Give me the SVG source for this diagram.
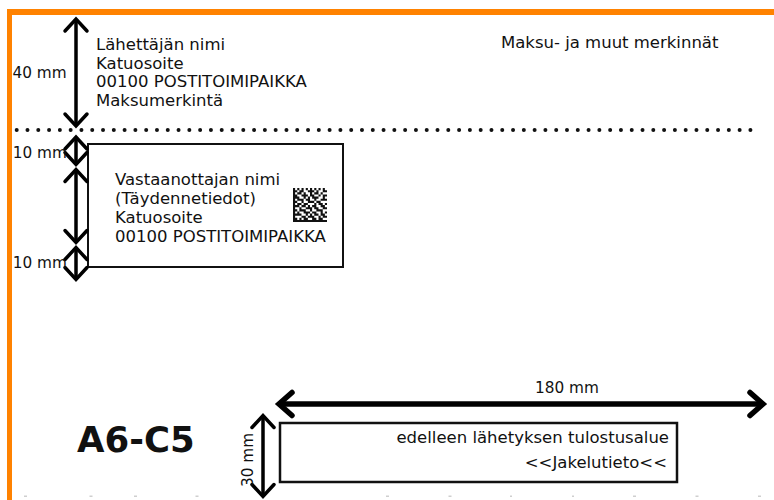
<svg xmlns="http://www.w3.org/2000/svg" width="774" height="500" viewBox="0 0 774 500">
<style>
.t{font-family:"DejaVu Sans","Liberation Sans",sans-serif;font-size:16.5px;fill:#111}
.lab{font-family:"DejaVu Sans","Liberation Sans",sans-serif;font-size:15.3px;fill:#111}
.title{font-family:"DejaVu Sans","Liberation Sans",sans-serif;font-size:35.5px;font-weight:bold;fill:#111}
.box{fill:#fff;stroke:#111}
.dim{fill:none;stroke:#000;stroke-width:3.5}
.dimb{fill:none;stroke:#000;stroke-width:5.5}
.orange{fill:#ff8200}
.tick{fill:#cfcfcf}
</style>
<defs>
<marker id="chev" markerUnits="userSpaceOnUse" viewBox="-20 -20 40 40" markerWidth="40" markerHeight="40" refX="0" refY="0" orient="auto-start-reverse" overflow="visible">
<path d="M-12,-11 L0,0 L-12,11" fill="none" stroke="#000" stroke-width="3.5" stroke-linejoin="miter" stroke-linecap="round"/>
</marker>
<marker id="chevb" markerUnits="userSpaceOnUse" viewBox="-20 -20 40 40" markerWidth="40" markerHeight="40" refX="0" refY="0" orient="auto-start-reverse" overflow="visible">
<path d="M-13,-11.5 L0,0 L-13,11.5" fill="none" stroke="#000" stroke-width="5.5" stroke-linejoin="miter" stroke-linecap="round"/>
</marker>
</defs>
<rect width="774" height="500" fill="#fff"/>

<g id="frame">
<rect class="orange" x="7" y="9" width="767" height="6"/>
<rect class="orange" x="7" y="9" width="5" height="491"/>
<line x1="16.7" y1="130" x2="751" y2="130" stroke="#111" stroke-width="4" stroke-linecap="round" stroke-dasharray="0 10.79"/>
<g id="bottom-ticks">
<rect class="tick" x="24" y="495.5" width="3" height="1.5"/>
<rect class="tick" x="89.5" y="495.5" width="3" height="1.5"/>
<rect class="tick" x="134" y="495.5" width="3" height="1.5"/>
<rect class="tick" x="195.5" y="495.5" width="3" height="1.5"/>
<rect class="tick" x="386" y="495.5" width="3" height="1.5"/>
<rect class="tick" x="448.5" y="495.5" width="3" height="1.5"/>
<rect class="tick" x="510" y="495.5" width="2" height="1.5"/>
<rect class="tick" x="572" y="495.5" width="2" height="1.5"/>
<rect class="tick" x="633" y="495.5" width="3" height="1.5"/>
<rect class="tick" x="695.5" y="495.5" width="3" height="1.5"/>
<rect class="tick" x="758" y="495.5" width="3" height="1.5"/>
</g>
</g>

<g id="sender">
<text class="t" x="96" y="50">Lähettäjän nimi</text>
<text class="t" x="96" y="68.7">Katuosoite</text>
<text class="t" x="96" y="87.4">00100 POSTITOIMIPAIKKA</text>
<text class="t" x="96" y="106">Maksumerkintä</text>
</g>

<g id="marks">
<text class="t" x="501" y="48.3">Maksu- ja muut merkinnät</text>
</g>

<g id="recipient">
<rect class="box" x="88" y="144" width="255" height="123" stroke-width="2"/>
<text class="t" x="115" y="185">Vastaanottajan nimi</text>
<text class="t" x="115" y="204">(Täydennetiedot)</text>
<text class="t" x="115" y="223">Katuosoite</text>
<text class="t" x="115" y="242">00100 POSTITOIMIPAIKKA</text>
<path transform="translate(293,188) scale(2.125)" fill="#111" d="M0 0h1v1h-1z M2 0h1v1h-1z M4 0h1v1h-1z M6 0h1v1h-1z M8 0h1v1h-1z M10 0h1v1h-1z M12 0h1v1h-1z M14 0h1v1h-1z M0 1h2v1h-2z M3 1h2v1h-2z M7 1h3v1h-3z M11 1h1v1h-1z M14 1h2v1h-2z M0 2h1v1h-1z M2 2h2v1h-2z M5 2h1v1h-1z M8 2h1v1h-1z M10 2h2v1h-2z M13 2h1v1h-1z M0 3h2v1h-2z M4 3h3v1h-3z M8 3h2v1h-2z M12 3h1v1h-1z M14 3h2v1h-2z M0 4h3v1h-3z M5 4h1v1h-1z M7 4h1v1h-1z M9 4h3v1h-3z M14 4h1v1h-1z M0 5h1v1h-1z M2 5h3v1h-3z M6 5h2v1h-2z M10 5h1v1h-1z M13 5h3v1h-3z M0 6h2v1h-2z M4 6h1v1h-1z M7 6h3v1h-3z M11 6h2v1h-2z M0 7h1v1h-1z M2 7h2v1h-2z M5 7h2v1h-2z M10 7h1v1h-1z M12 7h2v1h-2z M15 7h1v1h-1z M0 8h3v1h-3z M4 8h2v1h-2z M7 8h1v1h-1z M9 8h2v1h-2z M13 8h2v1h-2z M0 9h1v1h-1z M3 9h1v1h-1z M6 9h3v1h-3z M10 9h2v1h-2z M14 9h2v1h-2z M0 10h2v1h-2z M3 10h3v1h-3z M8 10h1v1h-1z M11 10h3v1h-3z M0 11h1v1h-1z M2 11h1v1h-1z M5 11h3v1h-3z M9 11h2v1h-2z M13 11h1v1h-1z M15 11h1v1h-1z M0 12h4v1h-4z M6 12h1v1h-1z M8 12h1v1h-1z M10 12h2v1h-2z M13 12h2v1h-2z M0 13h1v1h-1z M4 13h2v1h-2z M7 13h3v1h-3z M12 13h1v1h-1z M14 13h2v1h-2z M0 14h2v1h-2z M3 14h1v1h-1z M5 14h2v1h-2z M9 14h2v1h-2z M12 14h2v1h-2z M0 15h16v1h-16z"/>
</g>

<g id="title">
<text class="title" x="77" y="452">A6-C5</text>
</g>

<g id="forwarding">
<rect class="box" x="280" y="423" width="397" height="59" stroke-width="2.5"/>
<text class="t" x="669" y="443" text-anchor="end">edelleen lähetyksen tulostusalue</text>
<text class="t" x="667" y="468" text-anchor="end" font-size="15">&lt;&lt;Jakelutieto&lt;&lt;</text>
</g>

<g id="connectors">
<line class="dim" x1="76" y1="19" x2="76" y2="126" marker-start="url(#chev)" marker-end="url(#chev)"/>
<line class="dim" x1="76" y1="137" x2="76" y2="164.5" marker-start="url(#chev)" marker-end="url(#chev)"/>
<line class="dim" x1="76" y1="169.5" x2="76" y2="242.5" marker-start="url(#chev)" marker-end="url(#chev)"/>
<line class="dim" x1="76" y1="247.5" x2="76" y2="279.5" marker-start="url(#chev)" marker-end="url(#chev)"/>
<line class="dim" x1="263" y1="415.5" x2="263" y2="496.5" marker-start="url(#chev)" marker-end="url(#chev)"/>
<line class="dimb" x1="279" y1="404" x2="763" y2="404" marker-start="url(#chevb)" marker-end="url(#chevb)"/>
</g>

<g id="labels">
<text class="lab" x="12.5" y="78">40 mm</text>
<text class="lab" x="12.7" y="158">10 mm</text>
<text class="lab" x="12.7" y="268">10 mm</text>
<text class="lab" x="567" y="393" text-anchor="middle">180 mm</text>
<text class="lab" transform="translate(253,460) rotate(-90)" text-anchor="middle">30 mm</text>
</g>
</svg>
